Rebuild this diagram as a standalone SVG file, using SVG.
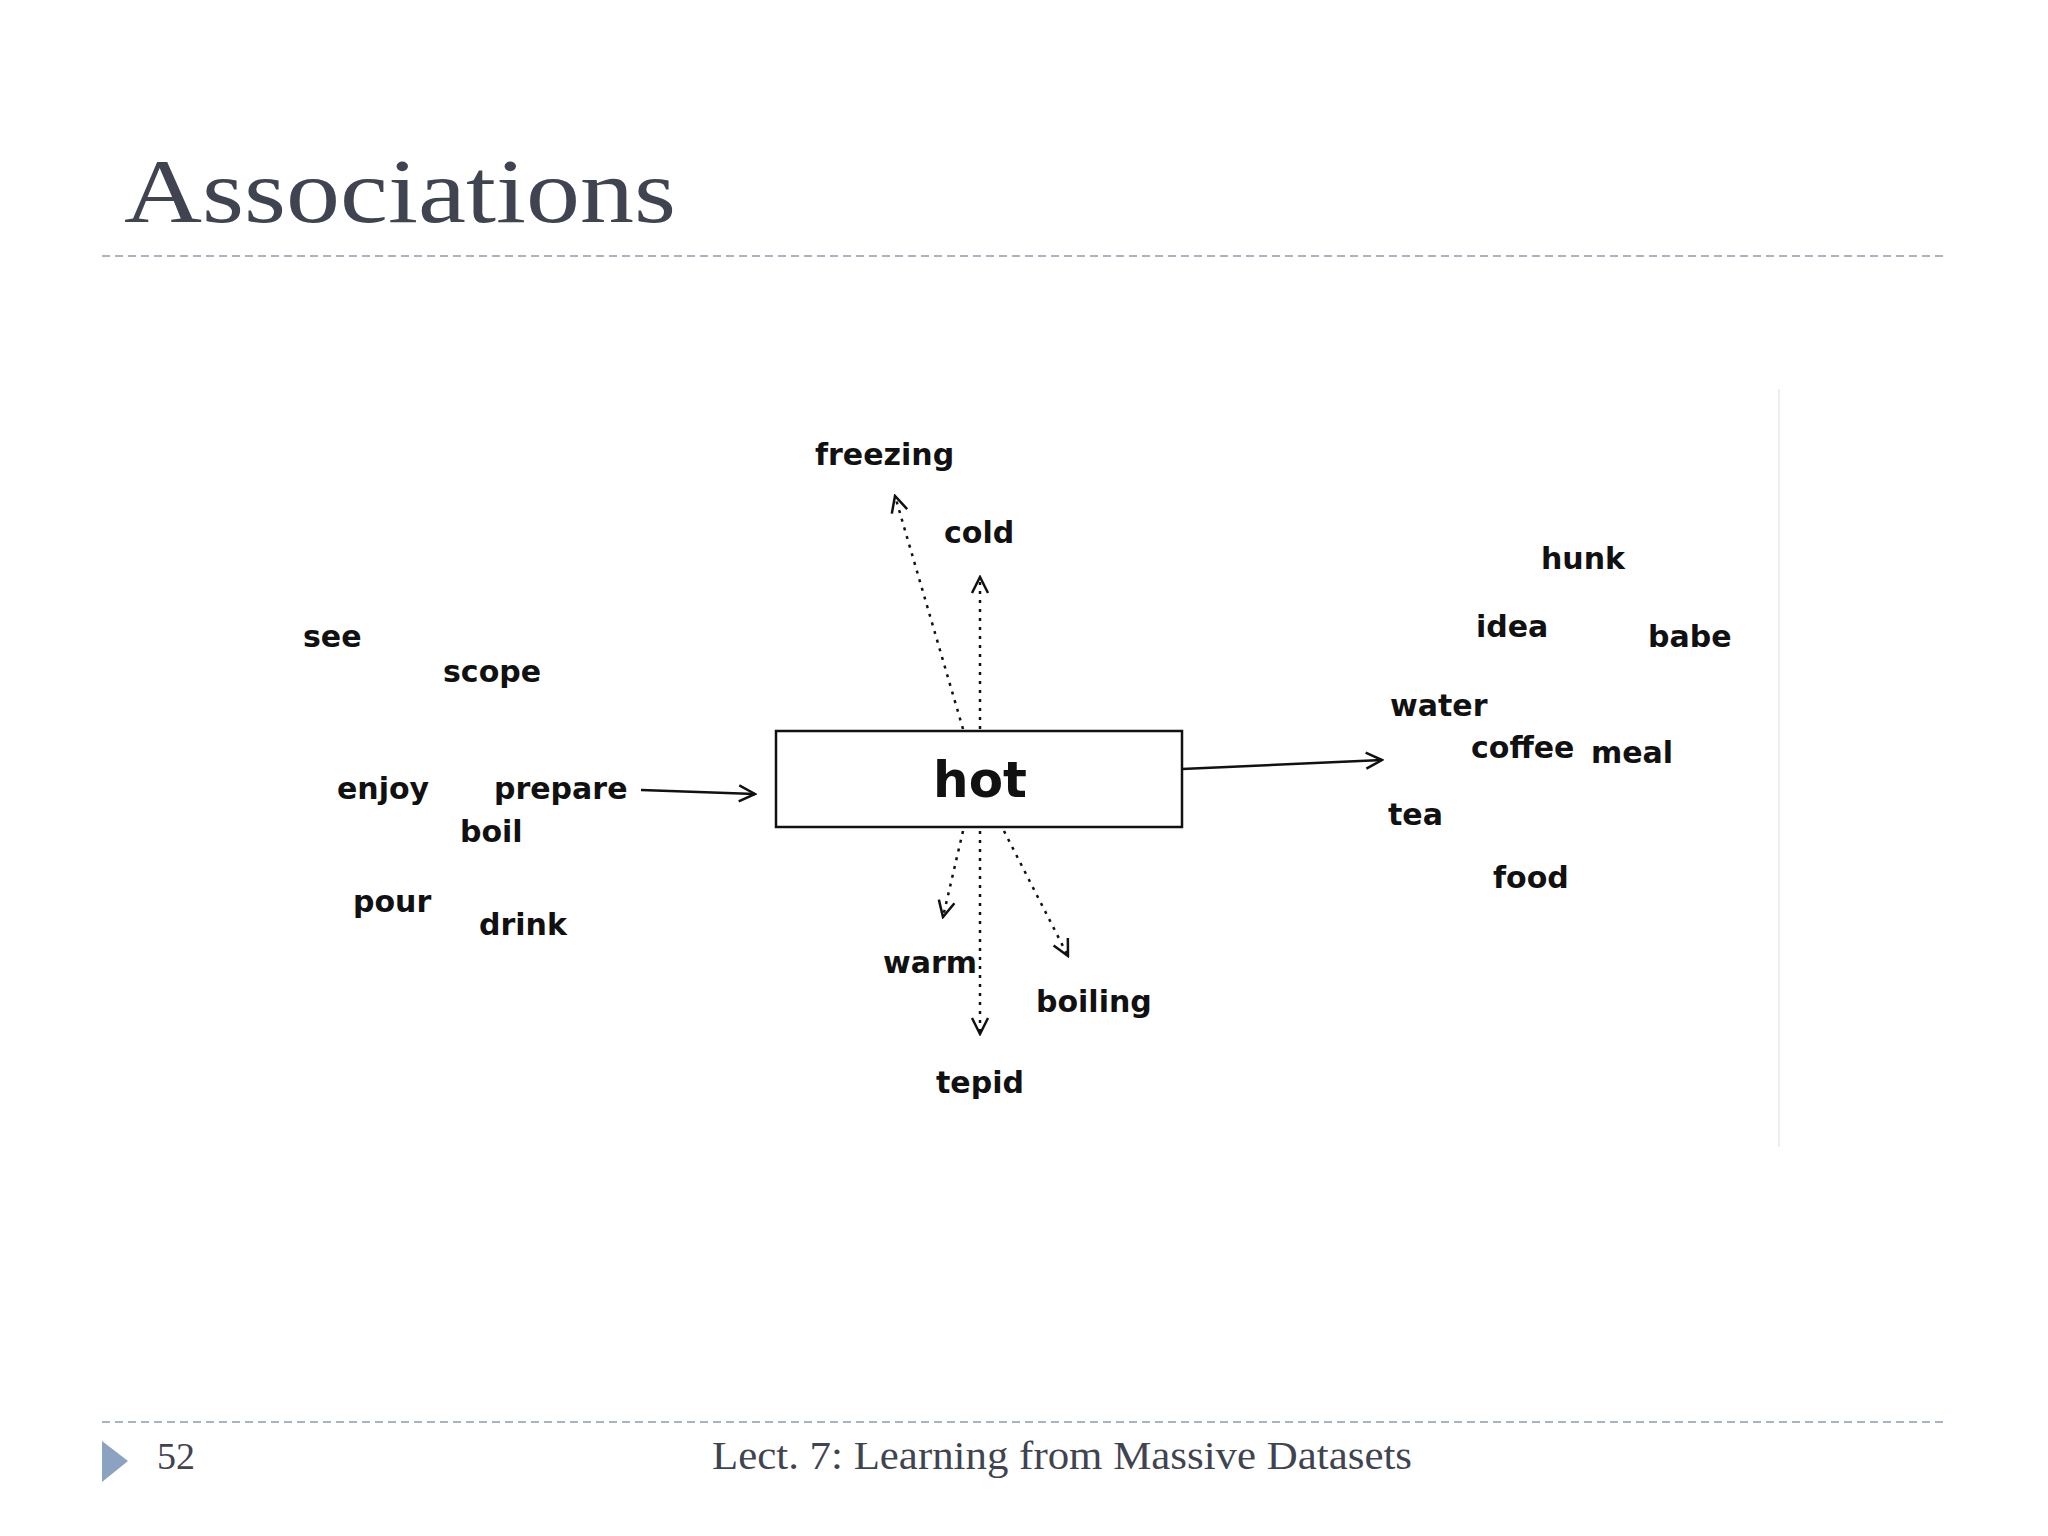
<svg xmlns="http://www.w3.org/2000/svg" width="2048" height="1536" viewBox="0 0 2048 1536">
<style>
.w{font-family:"DejaVu Sans",sans-serif;font-size:30px;fill:#111;font-weight:600}
.s{font-family:"Liberation Serif",serif;fill:#3f4450}
.c{stroke:#111;stroke-width:2.5;fill:none}
.d{stroke-dasharray:3 6}
</style>
<defs>
<marker id="a" markerWidth="20" markerHeight="20" refX="18" refY="10" orient="auto" markerUnits="userSpaceOnUse">
<polyline points="2,2 18,10 2,18" fill="none" stroke="#111" stroke-width="2.5"/>
</marker>
</defs>
<rect width="2048" height="1536" fill="#fff"/>
<text class="s" x="124" y="222" font-size="92" textLength="552" lengthAdjust="spacingAndGlyphs">Associations</text>
<line x1="102" y1="256" x2="1946" y2="256" stroke="#a9b4c2" stroke-width="2" stroke-dasharray="8 5"/>
<line x1="102" y1="1422" x2="1946" y2="1422" stroke="#a9b4c2" stroke-width="2" stroke-dasharray="8 5"/>
<polygon points="102,1441 128,1461 102,1482" fill="#8ba3c1"/>
<text class="s" x="157" y="1469" font-size="38">52</text>
<text class="s" x="712" y="1469" font-size="40" textLength="700" lengthAdjust="spacingAndGlyphs">Lect. 7: Learning from Massive Datasets</text>
<line x1="1779" y1="389" x2="1779" y2="1147" stroke="#eee" stroke-width="2"/>
<g id="hot"><rect x="776" y="731" width="406" height="96" fill="#fff" stroke="#111" stroke-width="2.5"/>
<text x="980" y="797" text-anchor="middle" font-family="DejaVu Sans,sans-serif" font-size="50" font-weight="600" fill="#111">hot</text></g>
<g id="words">
<text class="w" x="815" y="465">freezing</text>
<text class="w" x="944" y="543">cold</text>
<text class="w" x="1541" y="569">hunk</text>
<text class="w" x="1476" y="637">idea</text>
<text class="w" x="1648" y="647">babe</text>
<text class="w" x="303" y="647">see</text>
<text class="w" x="443" y="682">scope</text>
<text class="w" x="1390" y="716">water</text>
<text class="w" x="1471" y="758">coffee</text>
<text class="w" x="1591" y="763">meal</text>
<text class="w" x="337" y="799">enjoy</text>
<text class="w" x="494" y="799">prepare</text>
<text class="w" x="460" y="842">boil</text>
<text class="w" x="1388" y="825">tea</text>
<text class="w" x="1493" y="888">food</text>
<text class="w" x="353" y="912">pour</text>
<text class="w" x="479" y="935">drink</text>
<text class="w" x="883" y="973">warm</text>
<text class="w" x="1036" y="1012">boiling</text>
<text class="w" x="936" y="1093">tepid</text>
</g>
<g id="connectors">
<line class="c" x1="641" y1="790" x2="755" y2="794" marker-end="url(#a)"/>
<line class="c" x1="1182" y1="769" x2="1382" y2="760" marker-end="url(#a)"/>
<line class="c d" x1="963" y1="729" x2="895" y2="496" marker-end="url(#a)"/>
<line class="c d" x1="980" y1="729" x2="980" y2="577" marker-end="url(#a)"/>
<line class="c d" x1="963" y1="831" x2="943" y2="917" marker-end="url(#a)"/>
<line class="c d" x1="980" y1="831" x2="980" y2="1034" marker-end="url(#a)"/>
<line class="c d" x1="1004" y1="831" x2="1068" y2="956" marker-end="url(#a)"/>
</g>
</svg>
